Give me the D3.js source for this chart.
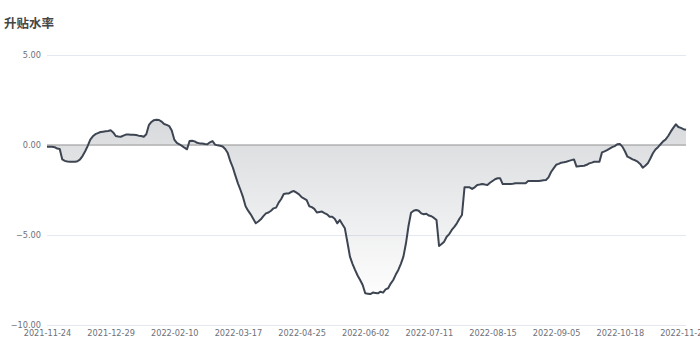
<!DOCTYPE html>
<html><head><meta charset="utf-8">
<script src="https://cdn.jsdelivr.net/npm/d3@7/dist/d3.min.js"></script>
<style>html,body{margin:0;padding:0;background:#fff;}svg{display:block;}</style>
</head><body>
<svg id="chart" width="700" height="350"></svg>
<script>
const title = "升贴水率";
const tickLabels = ["2021-11-24","2021-12-29","2022-02-10","2022-03-17","2022-04-25","2022-06-02","2022-07-11","2022-08-15","2022-09-05","2022-10-18","2022-11-22"];
const tickIndex = [0,25,50,75,100,125,150,175,200,225,250];
const yTicks = [5,0,-5,-10];
const values = [
-0.10,-0.10,-0.10,-0.12,-0.20,-0.22,-0.80,-0.88,-0.92,-0.93,
-0.93,-0.93,-0.90,-0.80,-0.60,-0.35,-0.05,0.30,0.48,0.60,
0.66,0.72,0.74,0.76,0.78,0.82,0.70,0.50,0.47,0.46,
0.52,0.58,0.58,0.57,0.57,0.55,0.52,0.50,0.46,0.60,
1.10,1.28,1.38,1.40,1.39,1.30,1.17,1.12,1.05,0.80,
0.30,0.12,0.04,-0.05,-0.15,-0.24,0.22,0.24,0.20,0.12,
0.09,0.08,0.05,0.04,0.15,0.22,0.02,-0.02,-0.04,-0.08,
-0.22,-0.45,-0.90,-1.25,-1.70,-2.13,-2.50,-2.90,-3.40,-3.65,
-3.85,-4.10,-4.35,-4.25,-4.13,-3.95,-3.80,-3.75,-3.65,-3.52,
-3.48,-3.20,-3.00,-2.72,-2.70,-2.69,-2.60,-2.56,-2.65,-2.74,
-2.90,-2.98,-3.06,-3.40,-3.45,-3.55,-3.75,-3.72,-3.70,-3.78,
-3.85,-3.98,-3.98,-4.10,-4.35,-4.17,-4.40,-4.63,-5.40,-6.20,
-6.60,-6.94,-7.25,-7.50,-7.78,-8.24,-8.26,-8.28,-8.20,-8.22,
-8.24,-8.15,-8.20,-8.02,-7.96,-7.70,-7.50,-7.20,-6.94,-6.60,
-6.20,-5.46,-4.50,-3.76,-3.65,-3.61,-3.65,-3.80,-3.85,-3.82,
-3.92,-3.96,-4.05,-4.17,-5.61,-5.50,-5.37,-5.10,-4.95,-4.72,
-4.55,-4.35,-4.10,-3.89,-2.35,-2.35,-2.35,-2.44,-2.35,-2.22,
-2.20,-2.17,-2.20,-2.22,-2.10,-2.00,-1.90,-1.85,-1.85,-2.17,
-2.17,-2.17,-2.16,-2.15,-2.13,-2.13,-2.13,-2.13,-2.13,-2.00,
-2.00,-2.00,-2.00,-2.00,-1.98,-1.96,-1.94,-1.80,-1.50,-1.30,
-1.10,-1.05,-0.98,-0.96,-0.93,-0.88,-0.84,-0.80,-1.20,-1.18,
-1.16,-1.15,-1.10,-1.02,-0.98,-0.93,-0.93,-0.93,-0.41,-0.35,
-0.28,-0.20,-0.12,-0.06,0.04,0.06,-0.09,-0.35,-0.65,-0.72,
-0.80,-0.85,-0.93,-1.05,-1.26,-1.15,-1.02,-0.75,-0.46,-0.25,
-0.12,0.04,0.20,0.31,0.50,0.74,0.95,1.15,1.00,0.95,
0.88,0.85
];

const svg = d3.select("#chart");
const mLeft = 47, mRight = 686, mTop = 55, mBottom = 325;
const x = d3.scaleLinear().domain([0, values.length - 1]).range([mLeft, mRight]);
const y = d3.scaleLinear().domain([-10, 5]).range([mBottom, mTop]);
const font = "'DejaVu Sans', sans-serif";

// title
svg.append("text").attr("x", 4).attr("y", 27.5).text(title)
  .attr("font-family", "'Noto Sans CJK SC', sans-serif").attr("font-weight", "bold")
  .attr("font-size", 12.5).attr("fill", "#464646");

// grid
const yAxis = d3.axisLeft(y).tickValues(yTicks).tickSize(-(mRight - mLeft)).tickPadding(6)
  .tickFormat(d3.format(".2f"));
const gy = svg.append("g").attr("transform", `translate(${mLeft},0)`).call(yAxis);
gy.select(".domain").remove();
gy.selectAll(".tick line").attr("stroke", "#e6e8f1").attr("stroke-width", 1);
gy.selectAll(".tick text").attr("fill", "#6e7079").attr("font-family", font).attr("font-size", 8.2);

// gradient
const defs = svg.append("defs");
const ext = d3.extent(values);
const grad = defs.append("linearGradient").attr("id", "g1")
  .attr("gradientUnits", "userSpaceOnUse")
  .attr("x1", 0).attr("x2", 0).attr("y1", y(ext[1])).attr("y2", y(ext[0]));
grad.append("stop").attr("offset", "0%").attr("stop-color", "#3d4552").attr("stop-opacity", 0.2);
grad.append("stop").attr("offset", "100%").attr("stop-color", "#3d4552").attr("stop-opacity", 0.01);

const area = d3.area().x((d, i) => x(i)).y0(y(0)).y1(d => y(d));
svg.append("path").datum(values).attr("d", area).attr("fill", "url(#g1)");

// zero axis line
svg.append("line").attr("x1", mLeft).attr("x2", mRight).attr("y1", y(0)).attr("y2", y(0))
  .attr("stroke", "#b3b3b3").attr("stroke-width", 1.5);

const line = d3.line().x((d, i) => x(i)).y(d => y(d));
svg.append("path").datum(values).attr("d", line).attr("fill", "none")
  .attr("stroke", "#3d4552").attr("stroke-width", 2).attr("stroke-linejoin", "round");

// x axis labels
const xAxis = d3.axisBottom(x).tickValues(tickIndex).tickSize(0).tickPadding(5)
  .tickFormat((d, i) => tickLabels[i]);
const gx = svg.append("g").attr("transform", `translate(0,${mBottom})`).call(xAxis);
gx.select(".domain").remove();
gx.selectAll(".tick text").attr("fill", "#6e7079").attr("font-family", font).attr("font-size", 8.2);
</script>
</body></html>
